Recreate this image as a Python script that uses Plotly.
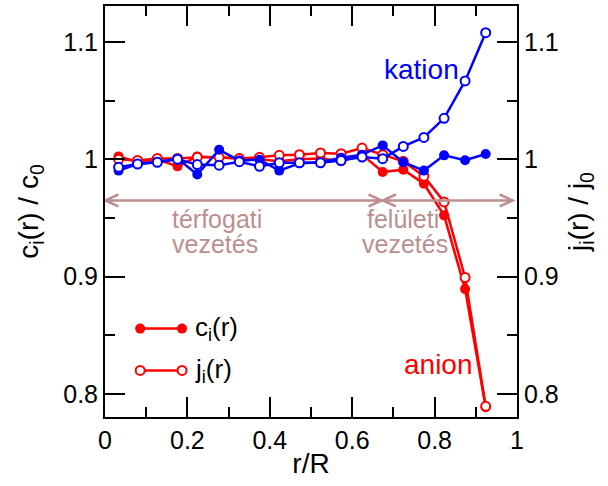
import plotly.graph_objects as go

# radial positions of the bins (r/R)
r = [0.033, 0.079, 0.127, 0.176, 0.224, 0.277, 0.326, 0.375, 0.423, 0.472,
     0.523, 0.573, 0.624, 0.674, 0.724, 0.774, 0.823, 0.874, 0.924]

# anion: concentration and current density profiles
c_anion = [1.0025, 0.9977, 1.0000, 0.9940, 1.0025, 1.0017, 1.0008, 1.0000, 0.9983, 1.0000,
           1.0008, 0.9983, 1.0040, 0.9892, 0.9912, 0.9792, 0.9522, 0.8893, 0.7885]
j_anion = [1.0000, 0.9990, 1.0008, 1.0008, 1.0017, 1.0017, 1.0008, 1.0017, 1.0034, 1.0040,
           1.0054, 1.0048, 1.0096, 1.0040, 0.9983, 0.9856, 0.9637, 0.8992, 0.7893]

# kation: concentration and current density profiles
c_kation = [0.9904, 0.9960, 0.9977, 1.0006, 0.9870, 1.0082, 0.9989, 0.9997, 0.9904, 0.9966,
            0.9975, 1.0013, 1.0040, 1.0119, 0.9975, 0.9904, 1.0034, 0.9992, 1.0045]
j_kation = [0.9932, 0.9960, 0.9975, 1.0000, 0.9955, 0.9950, 0.9980, 0.9940, 0.9970, 0.9970,
            0.9970, 0.9990, 1.0020, 1.0006, 1.0110, 1.0187, 1.0350, 1.0669, 1.1080]

X_RANGE = [0, 1]
Y_RANGE = [0.7802, 1.1308]

RED = "#ff0000"
BLUE = "#0000ff"
BROWN = "#bc8f8f"
FONT = "Liberation Sans"

fig = go.Figure()


def profile(y, color, filled, name):
    fig.add_trace(go.Scatter(
        x=r, y=y, mode="lines+markers", name=name, showlegend=False,
        line=dict(color=color, width=2.5),
        marker=dict(size=10 if filled else 9,
                    color=color if filled else "white",
                    line=dict(color=color, width=0 if filled else 2),
                    symbol="circle"),
    ))


profile(c_anion, RED, True, "c anion")
profile(j_anion, RED, False, "j anion")
profile(c_kation, BLUE, True, "c kation")
profile(j_kation, BLUE, False, "j kation")

# hand-made legend entries: short line with a marker at both ends
legend_x = [0.0854, 0.187]
for ly, filled in [(0.8556, True), (0.8199, False)]:
    fig.add_trace(go.Scatter(
        x=legend_x, y=[ly, ly], mode="lines+markers", showlegend=False,
        line=dict(color=RED, width=2.5),
        marker=dict(size=10 if filled else 9,
                    color=RED if filled else "white",
                    line=dict(color=RED, width=0 if filled else 2)),
    ))


def label(x, y, text, color, size, xanchor="center"):
    return dict(x=x, y=y, text=text, xref="x", yref="y", showarrow=False,
                xanchor=xanchor, yanchor="middle",
                font=dict(family=FONT, size=size, color=color))


annotations = [
    label(0.213, 0.8556, "c<sub>i</sub>(r)", "black", 26, "left"),
    label(0.213, 0.8199, "j<sub>i</sub>(r)", "black", 26, "left"),
    label(0.767, 1.0765, "kation", BLUE, 28),
    label(0.810, 0.8248, "anion", RED, 28),
    label(0.272, 0.9495, "térfogati", BROWN, 25),
    label(0.268, 0.9280, "vezetés", BROWN, 25),
    label(0.723, 0.9495, "felületi", BROWN, 25),
    label(0.728, 0.9280, "vezetés", BROWN, 25),
]

# double-headed arrows marking the two conduction regions
plot_w = 608 - 104.7 - 90.7
plot_h = 486 - 4 - 69.3
px_x = (X_RANGE[1] - X_RANGE[0]) / plot_w
px_y = (Y_RANGE[1] - Y_RANGE[0]) / plot_h
arrow_y = 0.9649
head_len = 13 * px_x
head_half = 6 * px_y
shapes = []
for x0, x1 in [(0.001, 0.6713), (0.6745, 0.9896)]:
    path = (f"M{x0},{arrow_y} L{x1},{arrow_y} "
            f"M{x0 + head_len},{arrow_y + head_half} L{x0},{arrow_y} L{x0 + head_len},{arrow_y - head_half} "
            f"M{x1 - head_len},{arrow_y + head_half} L{x1},{arrow_y} L{x1 - head_len},{arrow_y - head_half}")
    shapes.append(dict(type="path", path=path, xref="x", yref="y",
                       line=dict(color=BROWN, width=2.5)))

axis_common = dict(
    showline=True, linecolor="black", linewidth=2,
    ticks="inside", ticklen=20, tickwidth=2, tickcolor="black",
    showgrid=False, zeroline=False,
    tickfont=dict(family=FONT, size=25, color="black"),
)
minor_y = dict(dtick=0.05, ticklen=10, tickwidth=2, ticks="inside", tickcolor="black")

fig.update_layout(
    width=608, height=486,
    margin=dict(l=104.7, r=90.7, t=4, b=69.3),
    paper_bgcolor="white", plot_bgcolor="white",
    font=dict(family=FONT, color="black"),
    xaxis=dict(range=X_RANGE, dtick=0.2, tick0=0, mirror="ticks",
               minor=dict(dtick=0.1, ticklen=10, tickwidth=2, ticks="inside", tickcolor="black"),
               title=dict(text="r/R", font=dict(family=FONT, size=28), standoff=0),
               **axis_common),
    yaxis=dict(range=Y_RANGE, dtick=0.1, tick0=0.8, minor=minor_y,
               title=dict(text="c<sub>i</sub>(r) / c<sub>0</sub>", font=dict(family=FONT, size=28),
                          standoff=16),
               **axis_common),
    yaxis2=dict(range=Y_RANGE, dtick=0.1, tick0=0.8, overlaying="y", side="right", minor=minor_y,
                title=dict(text="j<sub>i</sub>(r) / j<sub>0</sub>", font=dict(family=FONT, size=28),
                           standoff=11),
                **axis_common),
    annotations=annotations,
    shapes=shapes,
    showlegend=False,
)

# an invisible trace so the right axis is drawn
fig.add_trace(go.Scatter(x=[None], y=[None], yaxis="y2", showlegend=False, hoverinfo="skip"))

fig.write_html("out.html")
